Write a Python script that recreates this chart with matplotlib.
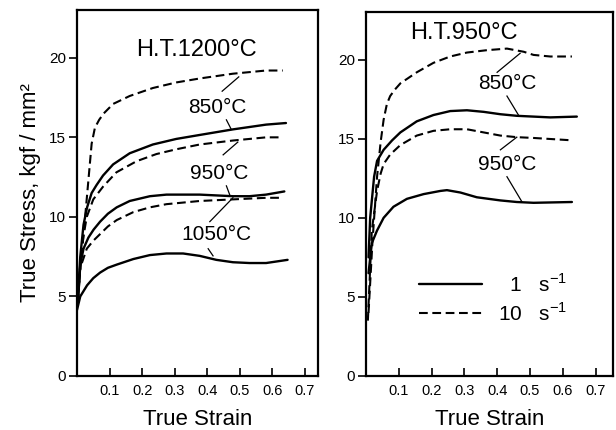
import matplotlib
matplotlib.use("Agg")
import matplotlib.pyplot as plt
from matplotlib.lines import Line2D

plt.rcParams['font.family'] = ['Liberation Sans', 'DejaVu Sans']
plt.rcParams['mathtext.fontset'] = 'custom'
plt.rcParams['mathtext.rm'] = 'Liberation Sans'

# --- H.T.1200C panel (strain, stress in kgf/mm2) ---
l850_10_x = [0.003, 0.015, 0.025, 0.035, 0.045, 0.055, 0.068, 0.082, 0.111, 0.162, 0.233, 0.305, 0.377, 0.479, 0.581, 0.632]
l850_10_y = [5.0, 7.8, 10.0, 12.3, 14.6, 15.6, 16.1, 16.5, 17.1, 17.6, 18.1, 18.45, 18.7, 19.0, 19.2, 19.2]
l850_1_x = [0.003, 0.010, 0.020, 0.031, 0.045, 0.060, 0.080, 0.111, 0.162, 0.233, 0.305, 0.377, 0.479, 0.581, 0.642]
l850_1_y = [5.0, 7.5, 9.5, 10.6, 11.5, 12.0, 12.6, 13.3, 14.0, 14.55, 14.9, 15.15, 15.5, 15.8, 15.9]
l950_10_x = [0.003, 0.010, 0.020, 0.030, 0.050, 0.080, 0.121, 0.183, 0.244, 0.305, 0.377, 0.479, 0.581, 0.632]
l950_10_y = [5.0, 7.0, 8.8, 10.0, 11.1, 11.9, 12.8, 13.5, 13.95, 14.25, 14.55, 14.8, 15.0, 15.0]
l950_1_x = [0.003, 0.010, 0.020, 0.035, 0.051, 0.071, 0.095, 0.122, 0.162, 0.224, 0.275, 0.377, 0.479, 0.530, 0.581, 0.637]
l950_1_y = [4.8, 7.0, 8.0, 8.7, 9.2, 9.7, 10.2, 10.6, 11.0, 11.3, 11.4, 11.4, 11.3, 11.3, 11.4, 11.6]
l1050_10_x = [0.003, 0.010, 0.030, 0.050, 0.070, 0.095, 0.122, 0.173, 0.224, 0.275, 0.377, 0.479, 0.581, 0.632]
l1050_10_y = [4.6, 6.8, 8.0, 8.5, 8.9, 9.4, 9.8, 10.3, 10.6, 10.8, 11.0, 11.1, 11.2, 11.2]
l1050_1_x = [0.0, 0.010, 0.031, 0.050, 0.071, 0.095, 0.122, 0.173, 0.224, 0.275, 0.326, 0.377, 0.428, 0.479, 0.530, 0.581, 0.647]
l1050_1_y = [4.15, 5.0, 5.7, 6.15, 6.5, 6.8, 7.0, 7.35, 7.6, 7.7, 7.7, 7.55, 7.3, 7.15, 7.1, 7.1, 7.3]

# --- H.T.950C panel ---
r850_10_x = [0.008, 0.020, 0.034, 0.045, 0.054, 0.064, 0.074, 0.088, 0.105, 0.155, 0.206, 0.257, 0.308, 0.369, 0.430, 0.481, 0.511, 0.562, 0.628]
r850_10_y = [4.0, 8.5, 12.6, 14.8, 16.2, 17.2, 17.7, 18.1, 18.5, 19.2, 19.8, 20.2, 20.45, 20.6, 20.7, 20.5, 20.3, 20.2, 20.2]
r850_1_x = [0.008, 0.013, 0.025, 0.034, 0.054, 0.080, 0.105, 0.155, 0.206, 0.257, 0.308, 0.359, 0.410, 0.460, 0.511, 0.562, 0.643]
r850_1_y = [7.5, 10.0, 12.6, 13.6, 14.3, 14.9, 15.4, 16.1, 16.5, 16.75, 16.8, 16.7, 16.55, 16.45, 16.4, 16.35, 16.4]
r950_10_x = [0.006, 0.018, 0.034, 0.045, 0.054, 0.074, 0.105, 0.155, 0.206, 0.257, 0.308, 0.359, 0.410, 0.460, 0.511, 0.628]
r950_10_y = [3.5, 9.2, 11.7, 12.8, 13.4, 14.0, 14.6, 15.2, 15.5, 15.6, 15.6, 15.4, 15.2, 15.1, 15.05, 14.9]
r950_1_x = [0.008, 0.018, 0.034, 0.054, 0.084, 0.125, 0.176, 0.227, 0.247, 0.288, 0.338, 0.410, 0.460, 0.511, 0.628]
r950_1_y = [6.5, 8.4, 9.2, 10.0, 10.7, 11.2, 11.5, 11.7, 11.75, 11.6, 11.3, 11.1, 11.0, 10.95, 11.0]

xticks = [0.1, 0.2, 0.3, 0.4, 0.5, 0.6, 0.7]
yticks = [0, 5, 10, 15, 20]

solid = dict(color='black', lw=1.7, solid_capstyle='round', solid_joinstyle='round')
dashed = dict(color='black', lw=1.5, linestyle=(0, (4.2, 2.2)), dash_joinstyle='round')
lead = dict(color='black', lw=0.9)


def style_axes(ax, xmax):
    ax.set_xlim(0, xmax)
    ax.set_ylim(0, 23)
    ax.set_xticks(xticks)
    ax.set_xticklabels(['%.1f' % t for t in xticks], fontsize=10.5)
    ax.set_yticks(yticks)
    ax.set_yticklabels([str(t) for t in yticks], fontsize=11)
    ax.tick_params(axis='x', direction='in', length=6, width=1.2, pad=6)
    ax.tick_params(axis='y', direction='out', length=6, width=1.2, pad=2)
    for s in ax.spines.values():
        s.set_linewidth(1.6)
    ax.set_xlabel('True Strain', fontsize=16, labelpad=8)


fig = plt.figure(figsize=(6.16, 4.30), dpi=100)

# left panel
ax1 = fig.add_axes([0.125, 0.1256, 0.391, 0.851])
ax1.plot(l850_10_x, l850_10_y, **dashed)
ax1.plot(l850_1_x, l850_1_y, **solid)
ax1.plot(l950_10_x, l950_10_y, **dashed)
ax1.plot(l950_1_x, l950_1_y, **solid)
ax1.plot(l1050_10_x, l1050_10_y, **dashed)
ax1.plot(l1050_1_x, l1050_1_y, **solid)
style_axes(ax1, 0.74)
ax1.set_ylabel('True Stress, kgf / mm²', fontsize=16, labelpad=6)

ax1.text(0.367, 20.5, 'H.T.1200°C', fontsize=17, ha='center', va='center')
ax1.text(0.431, 16.9, '850°C', fontsize=15, ha='center', va='center')
ax1.text(0.437, 12.7, '950°C', fontsize=15, ha='center', va='center')
ax1.text(0.428, 8.9, '1050°C', fontsize=15, ha='center', va='center')
# leader lines
ax1.plot([0.446, 0.497], [17.9, 18.8], **lead)
ax1.plot([0.459, 0.474], [16.1, 15.5], **lead)
ax1.plot([0.449, 0.494], [13.9, 14.7], **lead)
ax1.plot([0.459, 0.469], [11.95, 11.4], **lead)
ax1.plot([0.408, 0.479], [9.7, 11.2], **lead)
ax1.plot([0.403, 0.418], [8.0, 7.55], **lead)

# right panel
ax2 = fig.add_axes([0.594, 0.1256, 0.401, 0.846])
ax2.plot(r850_10_x, r850_10_y, **dashed)
ax2.plot(r850_1_x, r850_1_y, **solid)
ax2.plot(r950_10_x, r950_10_y, **dashed)
ax2.plot(r950_1_x, r950_1_y, **solid)
style_axes(ax2, 0.753)

ax2.text(0.30, 21.7, 'H.T.950°C', fontsize=17, ha='center', va='center')
ax2.text(0.43, 18.5, '850°C', fontsize=15, ha='center', va='center')
ax2.text(0.43, 13.4, '950°C', fontsize=15, ha='center', va='center')
ax2.plot([0.40, 0.47], [19.2, 20.4], **lead)
ax2.plot([0.43, 0.465], [17.7, 16.5], **lead)
ax2.plot([0.41, 0.46], [14.3, 15.1], **lead)
ax2.plot([0.43, 0.476], [12.6, 11.0], **lead)

handles = [Line2D([], [], **solid), Line2D([], [], **dashed)]
ax2.legend(handles, ['  1   s$^{-1}$', '10   s$^{-1}$'], loc='lower left',
           bbox_to_anchor=(0.14, 0.09), frameon=False, fontsize=15,
           handlelength=3.0, handletextpad=0.8, labelspacing=0.3)

fig.savefig('out.png', dpi=100)
